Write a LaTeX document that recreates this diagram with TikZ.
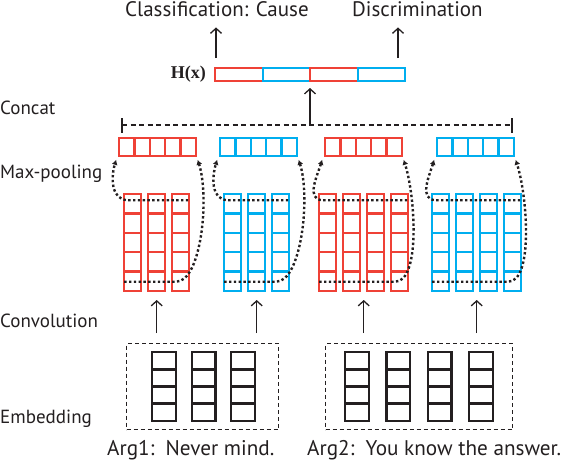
\documentclass[tikz,border=0pt]{standalone}
\usepackage{fontspec}
\setmainfont{PT Sans}
\newfontfamily\hxfont{Liberation Serif}
\usepackage{xcolor}
\usepackage{tikz}
\usetikzlibrary{arrows.meta}
\usetikzlibrary{shapes,fit,calc,positioning}

\definecolor{cnnred}{RGB}{239,65,54}
\definecolor{cnnblue}{RGB}{0,174,239}
\definecolor{ink}{RGB}{35,31,32}

\tikzset{
  lbl/.style={inner sep=0pt, text=ink, font=\fontsize{19}{20}\selectfont},
  toplbl/.style={inner sep=0pt, text=ink, font=\fontsize{21}{23}\selectfont},
  arglbl/.style={inner sep=0pt, text=ink, font=\fontsize{21.2}{23}\selectfont},
  hbox/.style={draw=#1, line width=2pt, minimum width=47.5pt, minimum height=13pt, inner sep=0pt, outer sep=0pt},
  pcell/.style={draw=#1, line width=2.4pt, minimum width=15.3pt, minimum height=17.6pt, inner sep=0pt, outer sep=0pt},
  mcell/.style={draw=#1, line width=2.4pt, minimum width=17pt, minimum height=19.3pt, inner sep=0pt, outer sep=0pt},
  ecell/.style={draw=ink, line width=2.4pt, minimum width=23.6pt, minimum height=17.15pt, inner sep=0pt, outer sep=0pt},
  embbox/.style={draw=ink, line width=1pt, dash pattern=on 4pt off 3pt, inner sep=0pt, outer sep=0pt},
  arr/.style={draw=ink, line width=1.3pt, -{Straight Barb[length=5pt,width=11pt]}},
  maxp/.style={draw=ink, line width=2.4pt, dash pattern=on 2.4pt off 2.4pt, -{Latex[length=5pt,width=6pt]}},
}

\begin{document}
\begin{tikzpicture}[x=1pt,y=1pt]

\coordinate(O1) at (0,0);
\useasboundingbox (O1) rectangle (564,-460);

% layer names
\node[lbl, below right=114pt and 0pt of O1, anchor=base west](lconcat) {Concat};
\node[lbl, below right=178pt and 0pt of O1, anchor=base west](lpool) {Max-pooling};
\node[lbl, below right=327pt and 0pt of O1, anchor=base west](lconv) {Convolution};
\node[lbl, below right=423pt and 0pt of O1, anchor=base west](lemb) {Embedding};

% outputs
\node[toplbl, below right=17pt and 125pt of O1, anchor=base west](cls) {Classification: Cause};
\node[toplbl, below right=17pt and 352pt of O1, anchor=base west](dis) {Discrimination};

% H(x)
\foreach \i/\c in {1/cnnred,2/cnnblue,3/cnnred,4/cnnblue}
  \node[hbox=\c, below right=68pt and 215pt+47.5pt*\i-47.5pt of O1](h\i) {};
\node[left=9pt of h1, inner sep=0pt, text=ink, font=\hxfont\bfseries\fontsize{18}{18}\selectfont](hx) {H(x)};

\draw[arr, shorten <=10pt, shorten >=10pt] ([xshift=1pt]h1.north west) -- ([xshift=1pt]h1.north west |- cls.south);
\draw[arr, shorten <=10pt, shorten >=10pt] ([xshift=-7pt]h4.north east) -- ([xshift=-7pt]h4.north east |- dis.south);

% concat
\coordinate[below right=125pt and 122pt of O1](cl);
\coordinate[below right=125pt and 512pt of O1](cr);
\draw[ink, line width=2pt, dash pattern=on 5pt off 3.5pt] (cl) -- (cr);
\draw[ink, line width=2pt] ([yshift=7pt]cl) -- ([yshift=-8pt]cl);
\draw[ink, line width=2pt] ([yshift=7pt]cr) -- ([yshift=-8pt]cr);
\draw[arr, shorten >=7pt] (h2.south east |- cl) -- (h2.south east);

% pooled vectors
\foreach \g/\c/\x in {1/cnnred/119.2pt, 2/cnnblue/220.2pt, 3/cnnred/325.2pt, 4/cnnblue/437.2pt}{
  \foreach \i in {0,...,4}
    \node[pcell=\c, below right=138.2pt and \x+15.3pt*\i of O1](p\g-\i) {};
  \node[fit=(p\g-0)(p\g-4), inner sep=0pt, outer sep=0pt](pool\g) {};
}

% feature maps
\foreach \g/\c/\n/\x in {1/cnnred/3/124.2pt, 2/cnnblue/3/224.2pt, 3/cnnred/4/319.2pt, 4/cnnblue/4/432.2pt}{
  \foreach \j in {1,...,\n}
    \foreach \r in {1,...,5}
      \node[mcell=\c, below right=194.2pt+19.3pt*\r-19.3pt and \x+24pt*\j-24pt of O1](m\g-\j-\r) {};
  \node[fit=(m\g-1-1)(m\g-\n-5), inner sep=0pt, outer sep=0pt](conv\g) {};
}

% max-pooling
\foreach \g in {1,...,4}{
  \draw[maxp] ([xshift=-1pt,yshift=-6pt]conv\g.north east) -- ([xshift=4pt,yshift=-6pt]conv\g.north west)
    .. controls +(-18pt,0pt) and +(-5pt,-16pt) .. ([xshift=-3pt,yshift=-4pt]pool\g.south west);
  \draw[maxp] ([yshift=9pt]conv\g.south west) -- ([xshift=-13pt,yshift=9pt]conv\g.south east)
    .. controls +(25pt,0pt) and +(12pt,-38pt) .. ([xshift=2pt,yshift=-4pt]pool\g.south east);
}

% embeddings
\node[embbox, below right=343.5pt and 126.5pt of O1, minimum width=152pt, minimum height=86pt](emb1) {};
\node[embbox, below right=343.5pt and 325.5pt of O1, minimum width=187pt, minimum height=86pt](emb2) {};
\foreach \g/\n/\x/\d in {1/3/152.2pt/39.5pt, 2/4/345.2pt/41.3pt}
  \foreach \j in {1,...,\n}
    \foreach \r in {1,...,4}
      \node[ecell, below right=352.2pt+17.15pt*\r-17.15pt and \x+\d*\j-\d of O1](e\g-\j-\r) {};

\foreach \g/\e in {1/1,2/1,3/2,4/2}
  \draw[arr, shorten <=10.5pt, shorten >=9.3pt] (conv\g.south |- emb\e.north) -- (conv\g.south);

\node[arglbl, below right=455pt and 107pt of O1, anchor=base west](arg1) {Arg1:~~Never mind.};
\node[arglbl, below right=455pt and 307pt of O1, anchor=base west](arg2) {Arg2:~~You know the answer.};
\end{tikzpicture}
\end{document}
